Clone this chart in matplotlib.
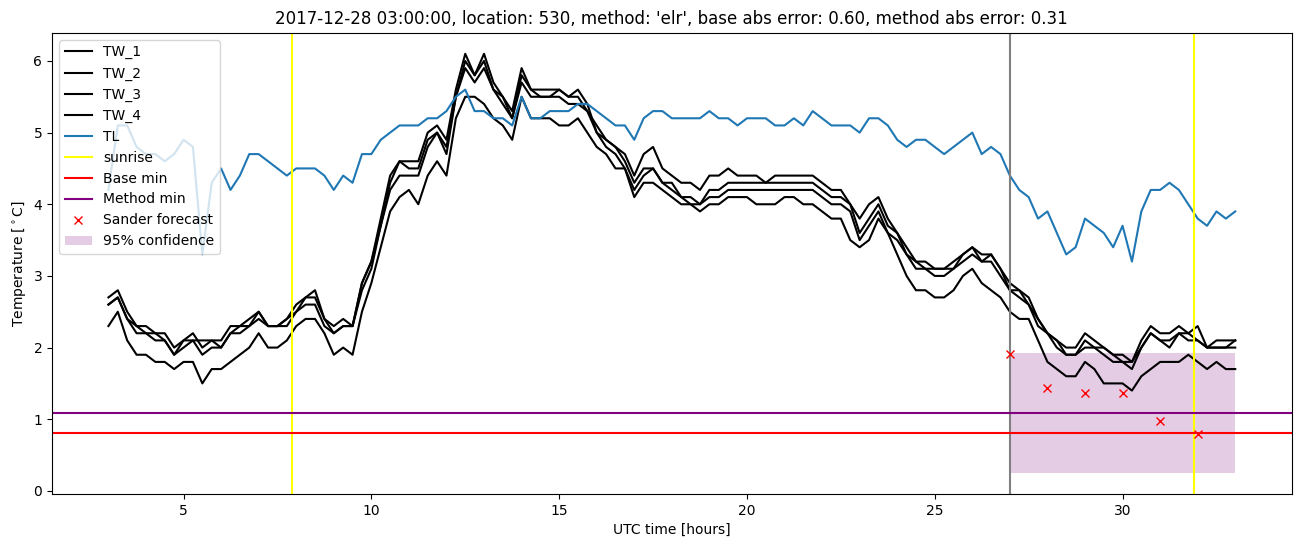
import numpy as np
import matplotlib
matplotlib.use('Agg')
import matplotlib.pyplot as plt

# tiempo en horas UTC, cada 15 minutos desde las 03:00
hours = np.arange(3, 33.01, 0.25)

tw_1 = [2.7, 2.8, 2.5, 2.3, 2.3, 2.2, 2.2, 2.0,
        2.1, 2.2, 2.0, 2.1, 2.1, 2.3, 2.3, 2.4,
        2.5, 2.3, 2.3, 2.4, 2.6, 2.7, 2.8, 2.4,
        2.3, 2.4, 2.3, 2.9, 3.2, 3.8, 4.4, 4.6,
        4.6, 4.6, 5.0, 5.1, 4.9, 5.6, 6.1, 5.8,
        6.1, 5.7, 5.5, 5.3, 5.9, 5.6, 5.6, 5.6,
        5.6, 5.5, 5.6, 5.4, 5.0, 4.9, 4.8, 4.7,
        4.4, 4.7, 4.8, 4.5, 4.4, 4.3, 4.3, 4.2,
        4.4, 4.4, 4.5, 4.4, 4.4, 4.4, 4.3, 4.4,
        4.4, 4.4, 4.4, 4.4, 4.3, 4.2, 4.2, 4.0,
        3.8, 4.0, 4.1, 3.8, 3.6, 3.4, 3.2, 3.2,
        3.1, 3.1, 3.2, 3.3, 3.4, 3.3, 3.3, 3.1,
        2.9, 2.8, 2.7, 2.4, 2.2, 2.1, 2.0, 2.0,
        2.2, 2.1, 2.0, 1.9, 1.9, 1.8, 2.1, 2.3,
        2.2, 2.2, 2.3, 2.2, 2.3, 2.0, 2.1, 2.1,
        2.1]

tw_2 = [2.6, 2.7, 2.4, 2.3, 2.2, 2.2, 2.1, 1.9,
        2.1, 2.1, 2.1, 2.1, 2.0, 2.2, 2.3, 2.3,
        2.5, 2.3, 2.3, 2.4, 2.5, 2.7, 2.7, 2.4,
        2.2, 2.3, 2.3, 2.9, 3.2, 3.7, 4.3, 4.6,
        4.5, 4.5, 4.9, 5.0, 4.8, 5.5, 6.0, 5.8,
        6.0, 5.6, 5.5, 5.2, 5.8, 5.6, 5.5, 5.5,
        5.6, 5.5, 5.5, 5.3, 5.1, 4.9, 4.8, 4.6,
        4.3, 4.5, 4.5, 4.3, 4.3, 4.1, 4.0, 4.0,
        4.2, 4.2, 4.3, 4.3, 4.3, 4.3, 4.3, 4.3,
        4.3, 4.3, 4.3, 4.3, 4.2, 4.1, 4.1, 4.0,
        3.6, 3.8, 4.0, 3.7, 3.6, 3.3, 3.2, 3.1,
        3.1, 3.1, 3.1, 3.3, 3.4, 3.2, 3.3, 3.1,
        2.8, 2.8, 2.6, 2.4, 2.2, 2.1, 1.9, 1.9,
        2.1, 2.0, 2.0, 1.9, 1.8, 1.8, 2.0, 2.2,
        2.1, 2.1, 2.2, 2.2, 2.1, 2.0, 2.0, 2.0,
        2.1]

tw_3 = [2.6, 2.7, 2.4, 2.2, 2.2, 2.1, 2.1, 1.9,
        2.0, 2.1, 1.9, 2.0, 2.0, 2.2, 2.2, 2.3,
        2.4, 2.3, 2.3, 2.3, 2.5, 2.6, 2.6, 2.3,
        2.2, 2.3, 2.3, 2.8, 3.1, 3.7, 4.2, 4.4,
        4.4, 4.4, 4.8, 5.0, 4.7, 5.5, 5.9, 5.7,
        5.9, 5.6, 5.4, 5.2, 5.7, 5.5, 5.5, 5.5,
        5.5, 5.4, 5.4, 5.3, 5.0, 4.8, 4.7, 4.5,
        4.2, 4.4, 4.5, 4.3, 4.2, 4.1, 4.1, 4.0,
        4.1, 4.1, 4.2, 4.2, 4.2, 4.2, 4.2, 4.2,
        4.2, 4.2, 4.2, 4.2, 4.1, 4.0, 4.0, 3.9,
        3.5, 3.7, 3.9, 3.6, 3.5, 3.3, 3.1, 3.1,
        3.0, 3.0, 3.1, 3.2, 3.3, 3.2, 3.2, 3.0,
        2.8, 2.7, 2.6, 2.3, 2.2, 2.0, 1.9, 1.9,
        2.0, 2.0, 1.9, 1.8, 1.8, 1.7, 2.0, 2.2,
        2.1, 2.0, 2.2, 2.1, 2.1, 2.0, 2.0, 2.0,
        2.0]

tw_4 = [2.3, 2.5, 2.1, 1.9, 1.9, 1.8, 1.8, 1.7,
        1.8, 1.8, 1.5, 1.7, 1.7, 1.8, 1.9, 2.0,
        2.2, 2.0, 2.0, 2.1, 2.3, 2.4, 2.4, 2.2,
        1.9, 2.0, 1.9, 2.5, 2.9, 3.4, 3.9, 4.1,
        4.2, 4.0, 4.4, 4.6, 4.4, 5.2, 5.5, 5.5,
        5.4, 5.2, 5.1, 4.9, 5.5, 5.2, 5.2, 5.2,
        5.1, 5.1, 5.2, 5.0, 4.8, 4.7, 4.5, 4.5,
        4.1, 4.3, 4.3, 4.2, 4.1, 4.0, 4.0, 3.9,
        4.0, 4.0, 4.1, 4.1, 4.1, 4.0, 4.0, 4.0,
        4.1, 4.1, 4.0, 4.0, 3.9, 3.8, 3.8, 3.5,
        3.4, 3.5, 3.8, 3.6, 3.3, 3.0, 2.8, 2.8,
        2.7, 2.7, 2.8, 3.0, 3.1, 2.9, 2.8, 2.7,
        2.5, 2.4, 2.4, 2.1, 1.8, 1.7, 1.6, 1.6,
        1.8, 1.7, 1.5, 1.5, 1.5, 1.4, 1.6, 1.7,
        1.8, 1.8, 1.8, 1.9, 1.8, 1.7, 1.8, 1.7,
        1.7]

tl = [4.2, 5.1, 5.1, 4.8, 4.7, 4.7, 4.6, 4.7,
      4.9, 4.8, 3.3, 4.3, 4.5, 4.2, 4.4, 4.7,
      4.7, 4.6, 4.5, 4.4, 4.5, 4.5, 4.5, 4.4,
      4.2, 4.4, 4.3, 4.7, 4.7, 4.9, 5.0, 5.1,
      5.1, 5.1, 5.2, 5.2, 5.3, 5.5, 5.6, 5.3,
      5.3, 5.2, 5.2, 5.1, 5.5, 5.2, 5.2, 5.3,
      5.3, 5.3, 5.4, 5.4, 5.3, 5.2, 5.1, 5.1,
      4.9, 5.2, 5.3, 5.3, 5.2, 5.2, 5.2, 5.2,
      5.3, 5.2, 5.2, 5.1, 5.2, 5.2, 5.2, 5.1,
      5.1, 5.2, 5.1, 5.3, 5.2, 5.1, 5.1, 5.1,
      5.0, 5.2, 5.2, 5.1, 4.9, 4.8, 4.9, 4.9,
      4.8, 4.7, 4.8, 4.9, 5.0, 4.7, 4.8, 4.7,
      4.4, 4.2, 4.1, 3.8, 3.9, 3.6, 3.3, 3.4,
      3.8, 3.7, 3.6, 3.4, 3.7, 3.2, 3.9, 4.2,
      4.2, 4.3, 4.2, 4.0, 3.8, 3.7, 3.9, 3.8,
      3.9]

sunrise = [7.9, 31.9]
forecast_time = 27
base_min = 0.81
method_min = 1.09

sander_hours = [27, 28, 29, 30, 31, 32]
sander_temp = [1.91, 1.44, 1.37, 1.37, 0.97, 0.80]
conf_hours = [27, 33]
conf_low = [0.25, 0.25]
conf_high = [1.92, 1.92]

fig, ax = plt.subplots(figsize=(13.02, 5.47), dpi=100)

for name, serie in zip(['TW_1', 'TW_2', 'TW_3', 'TW_4'], [tw_1, tw_2, tw_3, tw_4]):
    ax.plot(hours, serie, color='black', label=name)
ax.plot(hours, tl, label='TL')

ax.axvline(sunrise[0], color='yellow', label='sunrise')
ax.axvline(sunrise[1], color='yellow')
ax.axvline(forecast_time, color='grey')
ax.axhline(base_min, color='red', label='Base min')
ax.axhline(method_min, color='purple', label='Method min')
ax.plot(sander_hours, sander_temp, 'x', color='red', label='Sander forecast')
ax.fill_between(conf_hours, conf_low, conf_high, color='purple', alpha=0.2,
                linewidth=0, label='95% confidence')

ax.set_title("2017-12-28 03:00:00, location: 530, method: 'elr', "
             "base abs error: 0.60, method abs error: 0.31")
ax.set_xlabel('UTC time [hours]')
ax.set_ylabel(r'Temperature [$^\circ$C]')
ax.legend(loc='upper left')

fig.subplots_adjust(left=0.040, right=0.992, top=0.940, bottom=0.097)
fig.savefig('out.png')
